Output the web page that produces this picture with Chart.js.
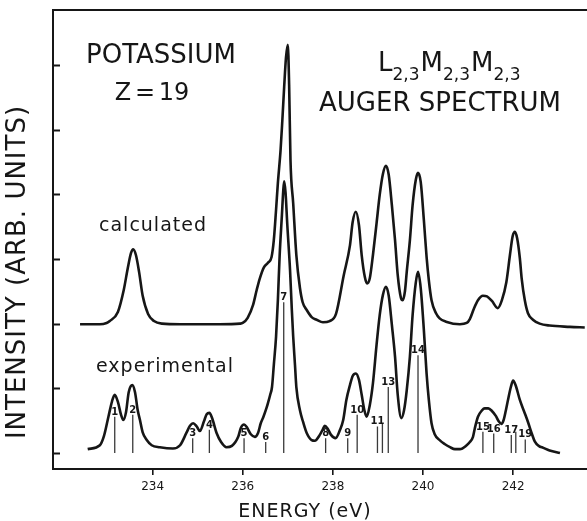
<!DOCTYPE html>
<html>
<head>
<meta charset="utf-8">
<title>Potassium L2,3M2,3M2,3 Auger spectrum</title>
<script src="https://cdn.jsdelivr.net/npm/chart.js@4.4.1/dist/chart.umd.min.js"></script>
<style>
  html, body { margin: 0; padding: 0; background: #fff; }
  #wrap { width: 587px; height: 521px; position: relative; }
</style>
</head>
<body>
<div id="wrap"><canvas id="chart"></canvas></div>
<script>
// energies in eV, intensities in arbitrary units (one unit = one y tick)
const calcEnergy = [232.39, 232.83, 232.98, 233.05, 233.23, 233.36, 233.45, 233.52, 233.57, 233.63, 233.70, 233.78, 233.90, 234.03, 234.21, 234.61, 235.49, 235.94, 236.00, 236.11, 236.23, 236.31, 236.38, 236.47, 236.56, 236.64, 236.69, 236.74, 236.78, 236.84, 236.88, 236.92, 236.96, 237.00, 237.03, 237.06, 237.12, 237.19, 237.27, 237.33, 237.42, 237.53, 237.64, 237.78, 237.93, 238.07, 238.24, 238.38, 238.44, 238.51, 238.58, 238.64, 238.71, 238.76, 238.82, 238.89, 238.97, 239.04, 239.11, 239.18, 239.24, 239.31, 239.38, 239.44, 239.51, 239.55, 239.60, 239.64, 239.71, 239.77, 239.84, 239.89, 239.95, 240.02, 240.08, 240.13, 240.19, 240.29, 240.37, 240.51, 240.82, 240.97, 241.04, 241.13, 241.22, 241.33, 241.42, 241.53, 241.66, 241.75, 241.85, 241.93, 241.99, 242.04, 242.09, 242.15, 242.19, 242.26, 242.33, 242.44, 242.59, 242.81, 243.26, 243.59];
const calcIntensity = [1.99, 1.99, 2.01, 2.04, 2.18, 2.52, 2.86, 3.09, 3.15, 3.06, 2.80, 2.43, 2.15, 2.04, 2.00, 1.99, 1.99, 2.00, 2.01, 2.09, 2.29, 2.52, 2.70, 2.87, 2.94, 3.03, 3.29, 3.76, 4.17, 4.68, 5.15, 5.66, 6.11, 6.31, 5.69, 4.53, 3.86, 3.06, 2.55, 2.33, 2.21, 2.10, 2.06, 2.02, 2.04, 2.15, 2.74, 3.21, 3.57, 3.73, 3.52, 3.06, 2.72, 2.62, 2.70, 3.06, 3.55, 3.99, 4.31, 4.44, 4.30, 3.83, 3.29, 2.75, 2.40, 2.36, 2.50, 2.80, 3.29, 3.83, 4.22, 4.33, 4.19, 3.60, 3.03, 2.67, 2.36, 2.16, 2.08, 2.03, 1.99, 2.01, 2.07, 2.23, 2.36, 2.43, 2.42, 2.35, 2.24, 2.36, 2.64, 3.06, 3.35, 3.42, 3.32, 3.01, 2.70, 2.36, 2.16, 2.06, 2.00, 1.97, 1.95, 1.94];

const expEnergy = [232.56, 232.83, 232.92, 233.02, 233.10, 233.16, 233.23, 233.30, 233.35, 233.41, 233.47, 233.55, 233.61, 233.67, 233.72, 233.78, 233.87, 233.98, 234.16, 234.45, 234.61, 234.75, 234.83, 234.90, 234.98, 235.05, 235.14, 235.20, 235.26, 235.32, 235.42, 235.52, 235.64, 235.76, 235.90, 235.96, 236.03, 236.09, 236.18, 236.27, 236.34, 236.40, 236.46, 236.53, 236.56, 236.61, 236.65, 236.69, 236.74, 236.78, 236.82, 236.87, 236.90, 236.92, 236.95, 236.99, 237.05, 237.09, 237.12, 237.16, 237.19, 237.27, 237.34, 237.42, 237.53, 237.60, 237.71, 237.78, 237.82, 237.89, 237.96, 238.06, 238.16, 238.23, 238.30, 238.38, 238.44, 238.51, 238.58, 238.64, 238.70, 238.75, 238.82, 238.89, 238.97, 239.04, 239.11, 239.18, 239.24, 239.31, 239.38, 239.44, 239.52, 239.58, 239.64, 239.71, 239.77, 239.84, 239.89, 239.95, 240.02, 240.08, 240.13, 240.19, 240.26, 240.37, 240.48, 240.60, 240.71, 240.82, 240.97, 241.04, 241.11, 241.15, 241.22, 241.31, 241.37, 241.45, 241.53, 241.62, 241.68, 241.74, 241.79, 241.84, 241.89, 241.95, 242.00, 242.06, 242.15, 242.24, 242.33, 242.41, 242.48, 242.57, 242.67, 242.81, 243.04];
const expIntensity = [0.06, 0.12, 0.26, 0.56, 0.80, 0.90, 0.79, 0.59, 0.51, 0.63, 0.94, 1.05, 0.94, 0.66, 0.51, 0.32, 0.20, 0.12, 0.09, 0.07, 0.12, 0.31, 0.42, 0.46, 0.41, 0.34, 0.49, 0.60, 0.62, 0.54, 0.31, 0.17, 0.09, 0.11, 0.25, 0.39, 0.44, 0.40, 0.29, 0.25, 0.31, 0.46, 0.56, 0.70, 0.77, 0.90, 1.02, 1.36, 1.80, 2.36, 3.06, 3.68, 4.06, 4.20, 4.03, 3.52, 2.83, 2.21, 1.80, 1.36, 1.02, 0.66, 0.48, 0.31, 0.20, 0.19, 0.28, 0.37, 0.42, 0.37, 0.28, 0.23, 0.36, 0.51, 0.82, 1.05, 1.19, 1.23, 1.13, 0.90, 0.66, 0.56, 0.74, 1.08, 1.67, 2.13, 2.44, 2.57, 2.43, 1.98, 1.49, 0.90, 0.54, 0.66, 0.97, 1.49, 2.13, 2.63, 2.80, 2.55, 1.90, 1.23, 0.82, 0.46, 0.29, 0.20, 0.14, 0.09, 0.06, 0.06, 0.12, 0.17, 0.25, 0.38, 0.56, 0.66, 0.69, 0.69, 0.65, 0.57, 0.49, 0.45, 0.51, 0.66, 0.83, 1.02, 1.12, 1.04, 0.82, 0.65, 0.48, 0.31, 0.18, 0.11, 0.08, 0.04, 0.00];

const stickEnergy = [233.16, 233.56, 234.89, 235.26, 236.03, 236.51, 236.91, 237.84, 238.33, 238.54, 238.99, 239.10, 239.23, 239.89, 241.33, 241.57, 241.96, 242.06, 242.27];
const stickHeight = [0.56, 0.59, 0.23, 0.36, 0.23, 0.17, 2.33, 0.23, 0.23, 0.59, 0.41, 0.45, 1.02, 1.51, 0.33, 0.30, 0.28, 0.33, 0.21];
const stickLabels = ['1', '2', '3', '4', '5', '6', '7', '8', '9', '10', '11', '', '13', '14', '15', '16', '17', '', '19'];

const energyTicks = [234, 236, 238, 240, 242];
const intensityTicks = [0, 1, 2, 3, 4, 5, 6];

const INK = '#161616';
const FONT = '"DejaVu Sans", sans-serif';

const toPoints = (xs, ys) => xs.map((x, i) => ({ x, y: ys[i] }));
// each stick = base, top, gap
const stickPoints = stickEnergy.flatMap((e, i) => [{ x: e, y: 0 }, { x: e, y: stickHeight[i] }, { x: e, y: null }]);

const textLayer = {
  id: 'textLayer',
  afterDraw (chart) {
    const { ctx, chartArea, scales: { x, y } } = chart;
    ctx.save();

    // y ticks point inward
    ctx.strokeStyle = INK;
    ctx.lineWidth = 2;
    y.ticks.forEach(t => {
      const py = Math.round(y.getPixelForValue(t.value)) + 0.5;
      ctx.beginPath();
      ctx.moveTo(chartArea.left, py);
      ctx.lineTo(chartArea.left + 7, py);
      ctx.stroke();
    });

    ctx.fillStyle = INK;

    // line numbers over the sticks
    ctx.font = 'bold 10px "Liberation Sans Narrow", "DejaVu Sans", sans-serif';
    ctx.textAlign = 'center';
    ctx.textBaseline = 'alphabetic';
    stickLabels.forEach((lab, i) => {
      if (!lab) return;
      ctx.fillText(lab, x.getPixelForValue(stickEnergy[i]), y.getPixelForValue(stickHeight[i]) - 2);
    });

    ctx.textBaseline = 'middle';
    ctx.font = '26px ' + FONT;
    ctx.fillText('POTASSIUM', 161, 56);
    ctx.font = '24px ' + FONT;
    ctx.wordSpacing = '-4px';
    ctx.fillText('Z = 19', 152, 94);
    ctx.wordSpacing = '0px';
    ctx.font = '26px ' + FONT;
    ctx.fillText('AUGER SPECTRUM', 440, 104);

    // L2,3M2,3M2,3 with subscripts
    const parts = [['L', 0], ['2,3', 1], ['M', 0], ['2,3', 1], ['M', 0], ['2,3', 1]];
    ctx.textAlign = 'left';
    ctx.textBaseline = 'alphabetic';
    let px = 378;
    parts.forEach(([s, sub]) => {
      ctx.font = (sub ? '17px ' : '26px ') + FONT;
      ctx.fillText(s, px, sub ? 80 : 71);
      px += ctx.measureText(s).width + (sub ? 1 : 0);
    });

    ctx.textAlign = 'center';
    ctx.textBaseline = 'middle';
    ctx.font = '19px ' + FONT;
    ctx.letterSpacing = '1px';
    ctx.fillText('calculated', 153, 226);
    ctx.fillText('experimental', 165, 367);

    // axis titles
    ctx.font = '19px ' + FONT;
    ctx.fillText('ENERGY (eV)', 305, 512);
    ctx.translate(18, 272);
    ctx.rotate(-Math.PI / 2);
    ctx.font = '26px ' + FONT;
    ctx.fillText('INTENSITY (ARB. UNITS)', 0, 0);
    ctx.restore();
  }
};

new Chart(document.getElementById('chart'), {
  type: 'line',
  data: {
    datasets: [{
      label: 'calculated',
      data: toPoints(calcEnergy, calcIntensity),
      borderColor: INK,
      borderWidth: 2.6,
      pointRadius: 0,
      cubicInterpolationMode: 'monotone'
    }, {
      label: 'experimental',
      data: toPoints(expEnergy, expIntensity),
      borderColor: INK,
      borderWidth: 2.6,
      pointRadius: 0,
      cubicInterpolationMode: 'monotone'
    }, {
      label: 'lines',
      data: stickPoints,
      borderColor: '#3a3a3a',
      borderWidth: 1.3,
      pointRadius: 0,
      tension: 0,
      spanGaps: false
    }]
  },
  options: {
    responsive: true,
    maintainAspectRatio: false,
    animation: false,
    layout: { padding: { top: 10, right: 0, bottom: 0, left: 0 } },
    plugins: {
      legend: { display: false },
      tooltip: { enabled: false }
    },
    scales: {
      x: {
        type: 'linear',
        min: 231.79,
        max: 243.64,
        afterBuildTicks: scale => { scale.ticks = energyTicks.map(v => ({ value: v })); },
        afterFit: scale => { scale.height = 52; },
        ticks: {
          color: INK,
          padding: 5,
          maxRotation: 0,
          font: { family: 'DejaVu Sans', size: 12 },
          callback: v => String(v)
        },
        grid: { drawOnChartArea: false, tickLength: 6, color: INK, lineWidth: 1.6 },
        border: { color: INK, width: 2 }
      },
      top: {
        type: 'linear',
        position: 'top',
        min: 231.79,
        max: 243.64,
        afterFit: scale => { scale.height = 0; },
        ticks: { display: false },
        grid: { display: false },
        border: { color: INK, width: 2 }
      },
      y: {
        type: 'linear',
        min: -0.247,
        max: 6.847,
        afterBuildTicks: scale => { scale.ticks = intensityTicks.map(v => ({ value: v })); },
        afterFit: scale => { scale.width = 53; },
        ticks: { display: false },
        grid: { display: false },
        border: { color: INK, width: 2 }
      }
    }
  },
  plugins: [textLayer]
});
</script>
</body>
</html>
